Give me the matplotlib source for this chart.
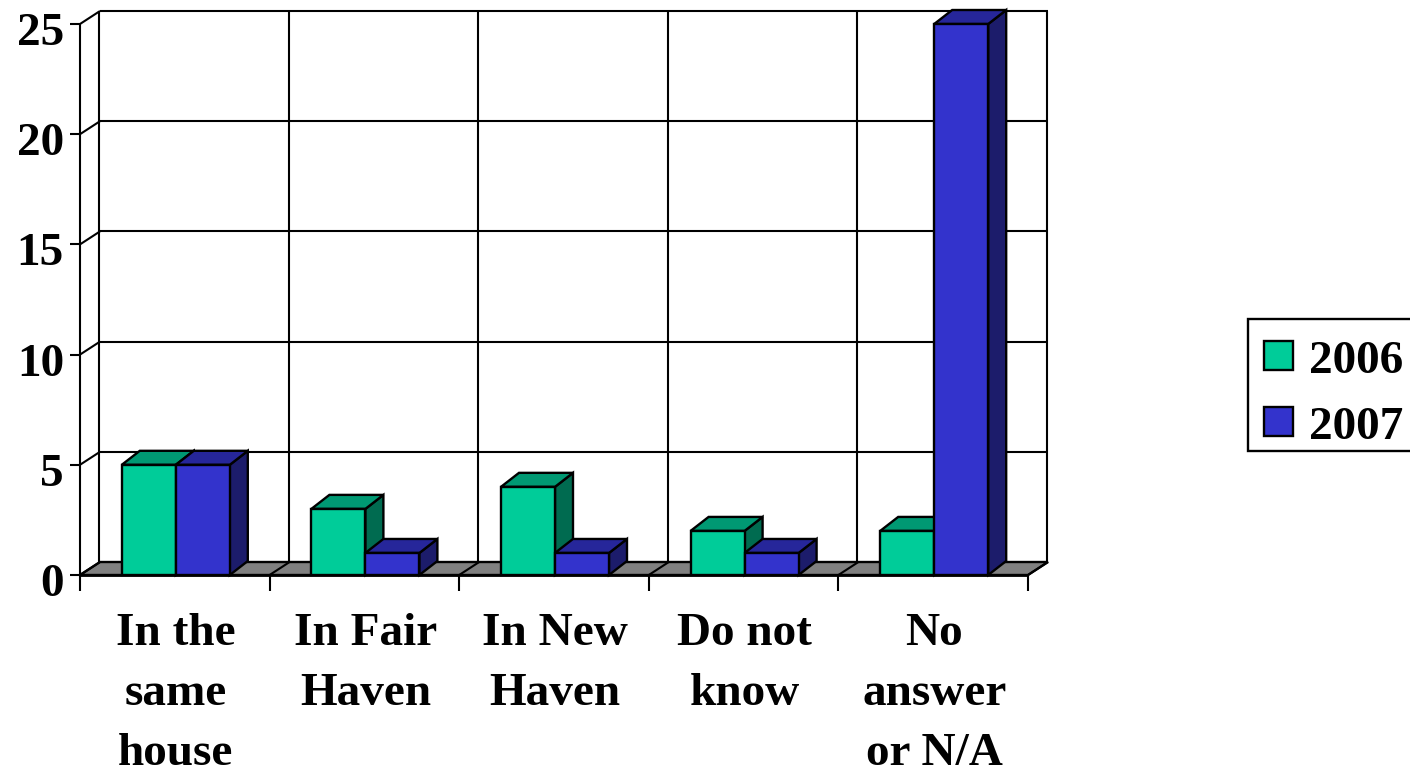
import matplotlib
matplotlib.use("Agg")
import matplotlib.pyplot as plt
from matplotlib.patches import Polygon, Rectangle

categories = ["In the\nsame\nhouse", "In Fair\nHaven", "In New\nHaven", "Do not\nknow", "No\nanswer\nor N/A"]
values_2006 = [5, 3, 4, 2, 2]
values_2007 = [5, 1, 1, 1, 25]
y_ticks = [0, 5, 10, 15, 20, 25]

GREEN = ("#00cc99", "#009973", "#006b50")
BLUE = ("#3333cc", "#26269a", "#1c1c6b")
FLOOR = "#808080"

W, H = 1410, 768
plt.rcParams["font.family"] = ["Liberation Serif", "DejaVu Serif"]
plt.rcParams["font.weight"] = "bold"

fig = plt.figure(figsize=(W / 100, H / 100), dpi=100)
# front plane of the fake 3d box
ax = fig.add_axes([80 / W, 1 - 575 / H, 948 / W, 551 / H])
ax.set_xlim(0, 5)
ax.set_ylim(0, 25)
ax.axis("off")

PX = 948 / 5
PY = 551 / 25
# depth of the box in data units
DX = 20 / PX
DY = 13 / PY
# bars are a bit less deep than the box
BDX = 18 / PX
BDY = 14 / PY
BAR_W = 54 / PX
FS = 34


def poly(pts, fc, lw=1.7, z=2):
    ax.add_patch(Polygon(pts, closed=True, fc=fc, ec="black", lw=lw, zorder=z, clip_on=False))


def line(xs, ys, lw=1.5, z=1):
    ax.plot(xs, ys, color="black", lw=lw, zorder=z, clip_on=False, solid_capstyle="butt")


def bar3d(x0, v, cols, z):
    x1 = x0 + BAR_W
    poly([(x1, 0), (x1 + BDX, BDY), (x1 + BDX, v + BDY), (x1, v)], cols[2], z=z)
    poly([(x0, v), (x0 + BDX, v + BDY), (x1 + BDX, v + BDY), (x1, v)], cols[1], z=z)
    ax.add_patch(Rectangle((x0, 0), BAR_W, v, fc=cols[0], ec="black", lw=1.7, zorder=z + 0.5, clip_on=False))


# back wall grid and left wall
for t in y_ticks:
    if t > 0:
        line([DX, 5 + DX], [t + DY, t + DY])
        line([0, DX], [t, t + DY])
    line([-10 / PX, 0], [t, t])
for i in range(6):
    line([i + DX - 1 / PX, i + DX - 1 / PX], [DY, 25 + DY])
line([0, 0], [0, 25])

# floor, split into one strip per category
poly([(0, 0), (DX, DY), (5 + DX, DY), (5, 0)], FLOOR, z=1.2)
for i in range(6):
    line([i, i + DX], [0, DY], z=1.3)
    line([i, i], [0, -16 / PY], z=1.3)
line([0, 5], [0, 0], lw=2, z=1.3)

for i, (a, b) in enumerate(zip(values_2006, values_2007)):
    x0 = i + 0.5 - BAR_W + 1 / PX
    bar3d(x0, a, GREEN, 3 + i)
    bar3d(x0 + BAR_W, b, BLUE, 3.1 + i)

for t in y_ticks:
    ax.text(-16 / PX, t - 10 / PY, str(t), ha="right", va="center", fontsize=FS)

for i, c in enumerate(categories):
    for j, row in enumerate(c.split("\n")):
        ax.text(i + 0.5 + 1 / PX, -(59 + 60 * j) / PY, row, ha="center", va="center", fontsize=FS)

# legend box
fig.add_artist(Rectangle((1248 / W, 1 - 451 / H), 170 / W, 132 / H, transform=fig.transFigure, fc="white", ec="black", lw=1.7, clip_on=False))
for y0, col, lab in [(341, GREEN[0], "2006"), (407, BLUE[0], "2007")]:
    fig.add_artist(Rectangle((1264 / W, 1 - (y0 + 29) / H), 29 / W, 29 / H, transform=fig.transFigure, fc=col, ec="black", lw=1.7))
    fig.text(1309 / W, 1 - (y0 + 21) / H, lab, ha="left", va="center", fontsize=FS)

fig.savefig("out.png", dpi=100, facecolor="white")
